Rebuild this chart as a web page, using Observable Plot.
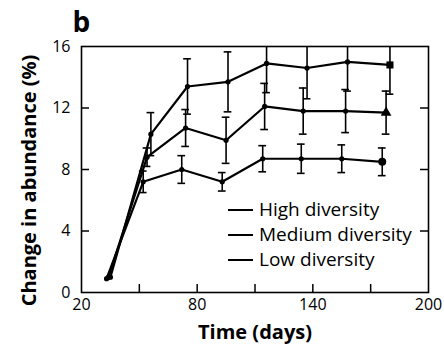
<!DOCTYPE html>
<html><head><meta charset="utf-8">
<script src="https://cdn.jsdelivr.net/npm/d3@7"></script>
<script src="https://cdn.jsdelivr.net/npm/@observablehq/plot@0.6"></script>
<style>body{margin:0;background:#fff} svg{display:block}</style>
</head><body><div id="chart"></div>
<script>
const seriesNames = ["High diversity", "Medium diversity", "Low diversity"];
const daysHigh = [35, 56, 75, 96, 116, 137, 158, 180];
const valuesHigh = [1.0, 10.3, 13.4, 13.7, 14.9, 14.6, 15.0, 14.8];
const errHigh = [0, 1.4, 1.8, 1.95, 1.9, 2.0, 1.9, 1.9];
const daysMedium = [34, 54, 74, 95, 115, 135, 157, 178];
const valuesMedium = [1.0, 8.8, 10.7, 9.9, 12.1, 11.8, 11.8, 11.7];
const errMedium = [0, 0.6, 1.2, 1.5, 1.5, 1.5, 1.4, 1.4];
const daysLow = [33, 52, 72, 93, 114, 134, 155, 176];
const valuesLow = [0.9, 7.2, 8.0, 7.2, 8.7, 8.7, 8.7, 8.5];
const errLow = [0, 0.7, 0.9, 0.6, 0.85, 0.95, 0.9, 0.9];
const xTickLabels = [20, 80, 140, 200];
const xInnerTicks = [50, 80, 110, 140, 170];
const yTickLabels = [0, 4, 8, 12, 16];
const yInnerTicks = [4, 8, 12];

const rows = [];
[[daysHigh, valuesHigh, errHigh], [daysMedium, valuesMedium, errMedium], [daysLow, valuesLow, errLow]]
  .forEach(([ds, vs, es], k) => ds.forEach((d, i) => rows.push({series: seriesNames[k], day: d, v: vs[i], err: es[i], last: i === ds.length - 1})));
const errRows = rows.filter(d => d.err > 0);
const lastRows = rows.filter(d => d.last);

const W = 444, H = 354, mL = 81, mR = 16, mT = 46, mB = 62;
const fw = W - mL - mR, fh = H - mT - mB;
const font = "'Open Sans', sans-serif";

function legend() {
  const g = d3.create("svg:g").attr("font-family", font).attr("font-size", 19).attr("text-anchor", "start");
  seriesNames.forEach((name, i) => {
    const y = 210 + i * 25;
    g.append("line").attr("x1", 228).attr("x2", 253).attr("y1", y).attr("y2", y)
      .attr("stroke", "#000").attr("stroke-width", 2);
    g.append("text").attr("x", 259).attr("y", y).attr("dy", "0.34em").attr("fill", "#000").attr("text-anchor", "start").text(name);
  });
  return g.node();
}

const plot = Plot.plot({
  width: W, height: H,
  marginLeft: mL, marginRight: mR, marginTop: mT, marginBottom: mB,
  style: {fontFamily: font, fontSize: "16px", color: "#000", background: "#fff"},
  x: {domain: [20, 200]},
  y: {domain: [0, 16]},
  symbol: {domain: seriesNames, range: ["square", "triangle", "circle"]},
  marks: [
    Plot.axisX({ticks: xTickLabels, tickSize: 0, tickPadding: 6, label: null, fontSize: 16}),
    Plot.axisY({ticks: yTickLabels, tickSize: 0, tickPadding: 11, label: null, fontSize: 16}),
    Plot.tickX(xInnerTicks, {x: d => d, insetTop: fh - 8, stroke: "#000", strokeWidth: 1.5}),
    Plot.tickY(yInnerTicks, {y: d => d, insetRight: fw - 8, stroke: "#000", strokeWidth: 1.5}),
    Plot.tickY(yInnerTicks, {y: d => d, insetLeft: fw - 8, stroke: "#000", strokeWidth: 1.5}),
    Plot.ruleX(errRows, {x: "day", y1: d => d.v - d.err, y2: d => d.v + d.err, stroke: "#000", strokeWidth: 1.6, clip: "frame"}),
    Plot.ruleY(errRows, {y: d => d.v + d.err, x1: d => d.day - 2, x2: d => d.day + 2, stroke: "#000", strokeWidth: 1.6, clip: "frame"}),
    Plot.ruleY(errRows, {y: d => d.v - d.err, x1: d => d.day - 2, x2: d => d.day + 2, stroke: "#000", strokeWidth: 1.6, clip: "frame"}),
    Plot.line(rows, {x: "day", y: "v", z: "series", stroke: "#000", strokeWidth: 2.2}),
    Plot.dot(rows, {x: "day", y: "v", r: 2.6, fill: "#000"}),
    Plot.dot(lastRows, {x: "day", y: "v", symbol: "series", r: 4, fill: "#000"}),
    Plot.frame({stroke: "#000", strokeWidth: 1.6}),
    Plot.text(["b"], {frameAnchor: "top-left", dx: -9, dy: -34, fontSize: 28, fontWeight: "bold", textAnchor: "start", fill: "#000"}),
    Plot.text(["Time (days)"], {frameAnchor: "bottom", dy: 46, fontSize: 20, fontWeight: "bold", fill: "#000"}),
    Plot.text(["Change in abundance (%)"], {frameAnchor: "left", dx: -52, dy: 11, rotate: -90, textAnchor: "middle", fontSize: 20, fontWeight: "bold", fill: "#000"}),
    legend
  ]
});
document.getElementById("chart").appendChild(plot);
</script>
</body></html>
